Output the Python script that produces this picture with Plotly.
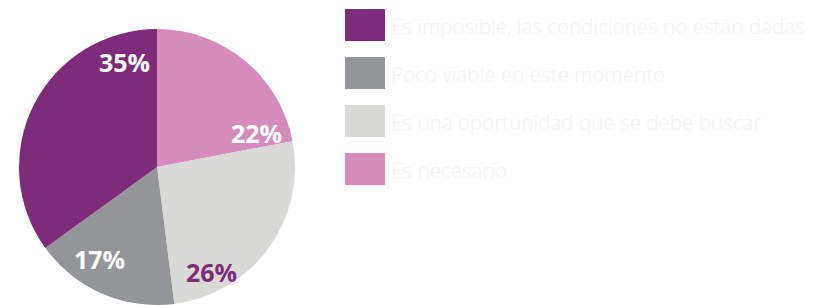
import plotly.graph_objects as go

W, H = 827, 305

categories = [
    "Es imposible, las condiciones no están dadas",
    "Poco viable en este momento",
    "Es una oportunidad que se debe buscar",
    "Es necesario",
]
values = [35, 17, 26, 22]
colors = ["#7E2C79", "#939598", "#D9D9D7", "#D68CBA"]
label_colors = ["#FFFFFF", "#FFFFFF", "#7E2C79", "#FFFFFF"]
# label centre positions in pixels (layout only)
label_pos = [(124, 62), (99, 259), (211, 272), (256, 133)]


def px(x):
    return x / W


def py(y):
    return 1 - y / H


# drawn clockwise from 12 o'clock in reverse legend order
fig = go.Figure(
    go.Pie(
        labels=categories[::-1],
        values=values[::-1],
        marker=dict(colors=colors[::-1], line=dict(width=0)),
        sort=False,
        direction="clockwise",
        rotation=0,
        textinfo="none",
        hoverinfo="label+percent",
        showlegend=False,
        domain=dict(x=[px(18), px(296)], y=[0, py(29)]),
    )
)

shapes = []
annotations = []
for i, (cat, col) in enumerate(zip(categories, colors)):
    top = 9 + 48 * i
    shapes.append(
        dict(
            type="rect", xref="paper", yref="paper",
            x0=px(345), x1=px(385), y0=py(top + 32), y1=py(top),
            fillcolor=col, line=dict(width=0),
        )
    )
    annotations.append(
        dict(
            text=cat, xref="paper", yref="paper",
            x=px(389), y=py(top + 17), xanchor="left", yanchor="middle",
            showarrow=False,
            font=dict(family="Open Sans", size=20.6, color="#F2F2F2", weight=300),
        )
    )

for v, c, (lx, ly) in zip(values, label_colors, label_pos):
    annotations.append(
        dict(
            text=f"{v}%", xref="paper", yref="paper",
            x=px(lx), y=py(ly), xanchor="center", yanchor="middle",
            showarrow=False,
            font=dict(family="Open Sans", size=25, color=c, weight="bold"),
        )
    )

fig.update_layout(
    width=W, height=H,
    margin=dict(l=0, r=0, t=0, b=0),
    paper_bgcolor="white", plot_bgcolor="white",
    shapes=shapes, annotations=annotations,
)

fig.write_html(
    "out.html",
    config={"displayModeBar": False},
    post_script="document.body.style.margin='0';document.body.style.overflow='hidden';",
)
